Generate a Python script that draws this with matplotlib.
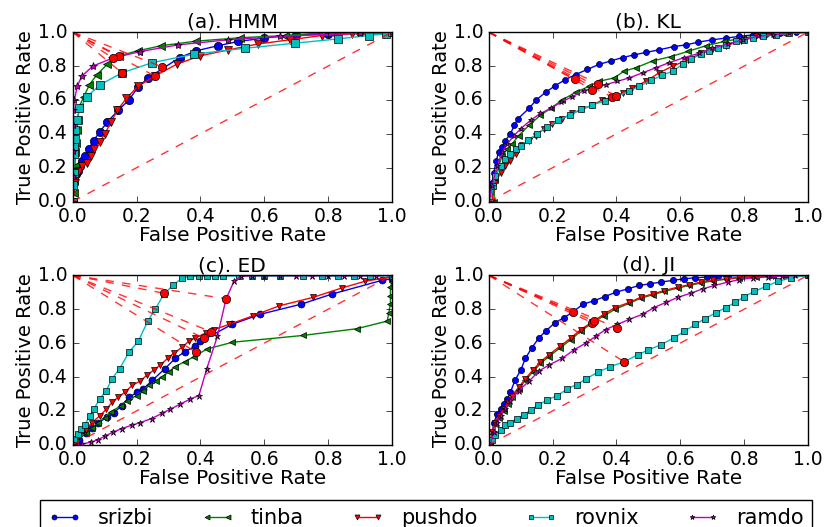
import matplotlib
matplotlib.use('Agg')
import matplotlib.pyplot as plt

plt.style.use('classic')

NAMES  = ['srizbi', 'tinba', 'pushdo', 'rovnix', 'ramdo']
STYLES = ['b-o', 'g-<', 'r-v', 'c-s', 'm-*']
TITLES = ['(a). HMM', '(b). KL', '(c). ED', '(d). JI']

# ---- (a) HMM ----
a_srizbi_x = [0, 0.005, 0.01, 0.016, 0.023, 0.03, 0.039, 0.05, 0.065, 0.084, 0.108, 0.143, 0.176, 0.204, 0.236, 0.335, 0.387, 0.455, 0.518, 0.6, 0.7, 0.8, 0.9, 1.0]
a_srizbi_y = [0, 0.11, 0.16, 0.18, 0.21, 0.24, 0.27, 0.31, 0.36, 0.41, 0.47, 0.54, 0.60, 0.675, 0.73, 0.85, 0.89, 0.92, 0.945, 0.965, 0.985, 0.99, 1.0, 1.0]
a_tinba_x = [0, 0.003, 0.005, 0.007, 0.008, 0.01, 0.013, 0.016, 0.02, 0.035, 0.052, 0.076, 0.108, 0.145, 0.204, 0.277, 0.387, 0.524, 0.665, 0.806, 1.0]
a_tinba_y = [0, 0.05, 0.13, 0.21, 0.29, 0.345, 0.42, 0.48, 0.56, 0.62, 0.69, 0.75, 0.81, 0.86, 0.89, 0.92, 0.947, 0.967, 0.98, 0.998, 1.0]
a_pushdo_x = [0, 0.007, 0.013, 0.019, 0.028, 0.045, 0.058, 0.068, 0.084, 0.1, 0.12, 0.14, 0.168, 0.204, 0.256, 0.325, 0.398, 0.487, 0.58, 0.68, 0.78, 0.874, 0.974, 1.0]
a_pushdo_y = [0, 0.11, 0.15, 0.18, 0.21, 0.23, 0.27, 0.31, 0.35, 0.40, 0.47, 0.54, 0.61, 0.68, 0.74, 0.81, 0.86, 0.895, 0.93, 0.955, 0.98, 0.99, 0.99, 1.0]
a_rovnix_x = [0, 0.002, 0.003, 0.003, 0.005, 0.007, 0.008, 0.012, 0.021, 0.045, 0.086, 0.154, 0.249, 0.38, 0.54, 0.696, 0.83, 0.927, 0.98, 1.0]
a_rovnix_y = [0, 0.10, 0.17, 0.28, 0.33, 0.37, 0.42, 0.48, 0.55, 0.62, 0.69, 0.76, 0.82, 0.87, 0.905, 0.935, 0.96, 0.98, 0.99, 1.0]
a_ramdo_x = [0, 0.001, 0.001, 0.002, 0.002, 0.005, 0.014, 0.028, 0.063, 0.124, 0.21, 0.33, 0.487, 0.65, 0.9, 1.0]
a_ramdo_y = [0, 0.15, 0.30, 0.45, 0.54, 0.60, 0.68, 0.74, 0.80, 0.846, 0.885, 0.925, 0.955, 0.975, 0.994, 1.0]
a_eer_x = [0.28, 0.145, 0.258, 0.154, 0.126]
a_eer_y = [0.795, 0.86, 0.74, 0.76, 0.847]

# ---- (b) KL ----
b_srizbi_x = [0, 0.005, 0.01, 0.016, 0.023, 0.031, 0.042, 0.052, 0.068, 0.08, 0.092, 0.126, 0.149, 0.178, 0.209, 0.24, 0.272, 0.309, 0.346, 0.382, 0.419, 0.455, 0.492, 0.534, 0.58, 0.618, 0.654, 0.70, 0.743, 0.785, 0.827, 0.87, 0.911, 0.963, 1.0]
b_srizbi_y = [0, 0.05, 0.11, 0.17, 0.24, 0.29, 0.32, 0.36, 0.40, 0.45, 0.49, 0.55, 0.60, 0.645, 0.685, 0.72, 0.75, 0.78, 0.81, 0.83, 0.85, 0.866, 0.88, 0.896, 0.915, 0.925, 0.94, 0.955, 0.965, 0.975, 0.984, 0.99, 0.994, 0.998, 1.0]
b_tinba_x = [0.016, 0.02, 0.031, 0.042, 0.058, 0.073, 0.094, 0.126, 0.162, 0.194, 0.23, 0.272, 0.314, 0.346, 0.393, 0.424, 0.461, 0.513, 0.571, 0.623, 0.681, 0.738, 0.796, 0.859, 0.921, 1.0]
b_tinba_y = [0, 0.13, 0.21, 0.27, 0.31, 0.34, 0.39, 0.45, 0.51, 0.55, 0.60, 0.645, 0.68, 0.71, 0.73, 0.77, 0.79, 0.83, 0.856, 0.886, 0.92, 0.945, 0.965, 0.984, 0.994, 1.0]
b_pushdo_x = [0.01, 0.02, 0.037, 0.052, 0.068, 0.084, 0.105, 0.126, 0.147, 0.173, 0.199, 0.23, 0.262, 0.293, 0.325, 0.356, 0.387, 0.419, 0.45, 0.492, 0.534, 0.576, 0.623, 0.665, 0.70, 0.743, 0.79, 0.838, 0.89, 0.942, 1.0]
b_pushdo_y = [0, 0.11, 0.17, 0.21, 0.24, 0.28, 0.335, 0.36, 0.39, 0.43, 0.46, 0.49, 0.52, 0.545, 0.57, 0.60, 0.616, 0.64, 0.67, 0.71, 0.76, 0.80, 0.835, 0.876, 0.896, 0.92, 0.95, 0.975, 0.986, 0.994, 1.0]
b_rovnix_x = [0.005, 0.013, 0.021, 0.037, 0.052, 0.068, 0.084, 0.1, 0.124, 0.152, 0.183, 0.218, 0.253, 0.288, 0.325, 0.364, 0.4, 0.438, 0.471, 0.508, 0.543, 0.576, 0.607, 0.634, 0.665, 0.691, 0.717, 0.743, 0.775, 0.801, 0.827, 0.86, 0.9, 0.94, 1.0]
b_rovnix_y = [0, 0.09, 0.15, 0.21, 0.25, 0.28, 0.31, 0.33, 0.365, 0.40, 0.44, 0.48, 0.51, 0.545, 0.57, 0.595, 0.62, 0.65, 0.68, 0.715, 0.745, 0.77, 0.81, 0.84, 0.87, 0.89, 0.905, 0.925, 0.945, 0.955, 0.965, 0.975, 0.985, 0.993, 1.0]
b_ramdo_x = [0, 0.01, 0.026, 0.042, 0.058, 0.079, 0.1, 0.131, 0.162, 0.194, 0.225, 0.262, 0.298, 0.325, 0.366, 0.403, 0.44, 0.482, 0.524, 0.565, 0.613, 0.66, 0.70, 0.749, 0.796, 0.843, 0.89, 0.942, 1.0]
b_ramdo_y = [0, 0.09, 0.21, 0.29, 0.34, 0.39, 0.43, 0.48, 0.52, 0.55, 0.585, 0.62, 0.655, 0.67, 0.69, 0.71, 0.73, 0.76, 0.79, 0.82, 0.85, 0.876, 0.905, 0.93, 0.955, 0.975, 0.984, 0.994, 1.0]
b_eer_x = [0.27, 0.343, 0.387, 0.4, 0.325]
b_eer_y = [0.722, 0.695, 0.616, 0.624, 0.66]

# ---- (c) ED ----
c_srizbi_x = [0, 0.02, 0.04, 0.06, 0.08, 0.108, 0.129, 0.153, 0.176, 0.202, 0.221, 0.249, 0.289, 0.321, 0.351, 0.382, 0.4, 0.498, 0.587, 0.716, 0.813, 0.968, 1.0]
c_srizbi_y = [0, 0.03, 0.07, 0.10, 0.13, 0.164, 0.19, 0.23, 0.28, 0.31, 0.33, 0.38, 0.45, 0.51, 0.55, 0.58, 0.61, 0.71, 0.77, 0.83, 0.89, 0.97, 0.98]
c_tinba_x = [0, 0.01, 0.04, 0.06, 0.08, 0.1, 0.12, 0.15, 0.17, 0.2, 0.22, 0.24, 0.26, 0.28, 0.3, 0.32, 0.35, 0.38, 0.42, 0.5, 0.72, 0.89, 0.985, 0.99, 0.995, 0.995, 0.995, 1.0, 1.0]
c_tinba_y = [0, 0.02, 0.07, 0.10, 0.13, 0.16, 0.195, 0.23, 0.26, 0.29, 0.32, 0.35, 0.375, 0.40, 0.43, 0.46, 0.49, 0.52, 0.565, 0.605, 0.645, 0.685, 0.73, 0.78, 0.83, 0.88, 0.93, 0.96, 1.0]
c_pushdo_x = [0, 0.02, 0.04, 0.06, 0.084, 0.105, 0.123, 0.142, 0.163, 0.186, 0.21, 0.232, 0.253, 0.274, 0.297, 0.316, 0.342, 0.363, 0.384, 0.416, 0.442, 0.489, 0.563, 0.647, 0.753, 0.842, 0.916, 0.995]
c_pushdo_y = [0, 0.05, 0.09, 0.13, 0.17, 0.21, 0.25, 0.28, 0.31, 0.35, 0.375, 0.41, 0.44, 0.47, 0.51, 0.54, 0.575, 0.61, 0.63, 0.66, 0.68, 0.71, 0.76, 0.82, 0.87, 0.925, 0.965, 0.99]
c_rovnix_x = [0, 0.005, 0.016, 0.026, 0.037, 0.053, 0.066, 0.084, 0.105, 0.123, 0.147, 0.177, 0.205, 0.235, 0.258, 0.286, 0.313, 0.342, 0.368, 0.395, 0.42, 0.445, 0.47, 0.52, 0.56, 0.6, 0.65, 0.72, 0.78, 0.83, 0.88, 0.93, 1.0]
c_rovnix_y = [0, 0.036, 0.065, 0.095, 0.115, 0.17, 0.21, 0.27, 0.32, 0.39, 0.45, 0.55, 0.61, 0.73, 0.80, 0.89, 0.94, 0.984, 0.994, 0.996, 0.996, 0.996, 0.996, 0.996, 0.996, 0.996, 0.996, 0.996, 0.996, 0.996, 0.996, 0.996, 0.996]
c_ramdo_x = [0, 0.015, 0.03, 0.058, 0.079, 0.1, 0.126, 0.153, 0.184, 0.21, 0.247, 0.279, 0.305, 0.337, 0.368, 0.395, 0.42, 0.453, 0.48, 0.505, 0.526, 0.56, 0.6, 0.65, 0.7, 0.75, 0.8, 0.85, 0.9, 0.95, 1.0]
c_ramdo_y = [0, 0.002, 0.005, 0.016, 0.03, 0.05, 0.075, 0.095, 0.115, 0.13, 0.155, 0.185, 0.21, 0.24, 0.27, 0.29, 0.45, 0.64, 0.86, 0.965, 0.994, 0.998, 0.998, 0.998, 0.998, 0.998, 0.998, 0.998, 0.998, 0.998, 1.0]
c_eer_x = [0.41, 0.386, 0.433, 0.286, 0.48]
c_eer_y = [0.63, 0.546, 0.667, 0.894, 0.862]

# ---- (d) JI ----
d_srizbi_x = [0.005, 0.016, 0.026, 0.037, 0.047, 0.058, 0.068, 0.082, 0.1, 0.115, 0.134, 0.157, 0.178, 0.207, 0.236, 0.264, 0.296, 0.33, 0.364, 0.398, 0.435, 0.471, 0.505, 0.539, 0.576, 0.613, 0.647, 0.683, 0.717, 0.75, 0.79, 0.83, 0.88, 0.93, 1.0]
d_srizbi_y = [0, 0.13, 0.18, 0.21, 0.24, 0.27, 0.31, 0.38, 0.44, 0.51, 0.57, 0.63, 0.67, 0.72, 0.75, 0.785, 0.83, 0.85, 0.875, 0.90, 0.92, 0.94, 0.95, 0.96, 0.97, 0.98, 0.985, 0.99, 0.994, 0.997, 0.998, 0.999, 1.0, 1.0, 1.0]
d_tinba_x = [0.005, 0.01, 0.02, 0.031, 0.047, 0.061, 0.073, 0.094, 0.115, 0.138, 0.162, 0.188, 0.222, 0.257, 0.288, 0.325, 0.36, 0.396, 0.44, 0.476, 0.513, 0.55, 0.592, 0.628, 0.665, 0.702, 0.743, 0.785, 0.838, 0.89, 0.94, 1.0]
d_tinba_y = [0, 0.065, 0.12, 0.16, 0.20, 0.24, 0.28, 0.33, 0.38, 0.43, 0.48, 0.52, 0.57, 0.62, 0.67, 0.72, 0.76, 0.80, 0.835, 0.865, 0.885, 0.905, 0.925, 0.94, 0.955, 0.967, 0.977, 0.986, 0.993, 0.997, 0.999, 1.0]
d_pushdo_x = [0.005, 0.01, 0.02, 0.031, 0.047, 0.061, 0.073, 0.094, 0.115, 0.138, 0.162, 0.188, 0.222, 0.257, 0.288, 0.325, 0.36, 0.396, 0.44, 0.476, 0.513, 0.55, 0.592, 0.628, 0.665, 0.702, 0.743, 0.785, 0.838, 0.89, 0.94, 1.0]
d_pushdo_y = [0, 0.075, 0.13, 0.17, 0.21, 0.25, 0.29, 0.34, 0.39, 0.44, 0.49, 0.53, 0.58, 0.63, 0.68, 0.725, 0.77, 0.81, 0.84, 0.87, 0.89, 0.91, 0.93, 0.945, 0.96, 0.97, 0.98, 0.988, 0.994, 0.998, 0.999, 1.0]
d_rovnix_x = [0.005, 0.01, 0.021, 0.037, 0.052, 0.068, 0.089, 0.11, 0.131, 0.155, 0.183, 0.215, 0.246, 0.275, 0.306, 0.343, 0.38, 0.424, 0.466, 0.5, 0.539, 0.579, 0.613, 0.647, 0.678, 0.712, 0.743, 0.772, 0.801, 0.832, 0.869, 0.906, 0.948, 1.0]
d_rovnix_y = [0, 0.03, 0.06, 0.09, 0.115, 0.13, 0.155, 0.175, 0.205, 0.235, 0.265, 0.29, 0.33, 0.355, 0.39, 0.43, 0.46, 0.49, 0.53, 0.56, 0.59, 0.63, 0.67, 0.71, 0.745, 0.78, 0.81, 0.84, 0.875, 0.905, 0.935, 0.965, 0.985, 1.0]
d_ramdo_x = [0.005, 0.016, 0.026, 0.037, 0.052, 0.068, 0.094, 0.126, 0.157, 0.188, 0.23, 0.267, 0.304, 0.335, 0.366, 0.403, 0.44, 0.482, 0.518, 0.555, 0.592, 0.634, 0.67, 0.707, 0.749, 0.785, 0.827, 0.874, 0.92, 0.96, 1.0]
d_ramdo_y = [0, 0.075, 0.13, 0.17, 0.21, 0.26, 0.32, 0.375, 0.435, 0.47, 0.51, 0.56, 0.60, 0.64, 0.68, 0.71, 0.74, 0.77, 0.81, 0.84, 0.87, 0.895, 0.92, 0.94, 0.96, 0.975, 0.985, 0.99, 0.996, 0.999, 1.0]
d_eer_x = [0.264, 0.325, 0.33, 0.424, 0.403]
d_eer_y = [0.785, 0.72, 0.73, 0.49, 0.69]

PANELS = [
    ([a_srizbi_x, a_tinba_x, a_pushdo_x, a_rovnix_x, a_ramdo_x],
     [a_srizbi_y, a_tinba_y, a_pushdo_y, a_rovnix_y, a_ramdo_y], a_eer_x, a_eer_y, 6),
    ([b_srizbi_x, b_tinba_x, b_pushdo_x, b_rovnix_x, b_ramdo_x],
     [b_srizbi_y, b_tinba_y, b_pushdo_y, b_rovnix_y, b_ramdo_y], b_eer_x, b_eer_y, 4.3),
    ([c_srizbi_x, c_tinba_x, c_pushdo_x, c_rovnix_x, c_ramdo_x],
     [c_srizbi_y, c_tinba_y, c_pushdo_y, c_rovnix_y, c_ramdo_y], c_eer_x, c_eer_y, 5),
    ([d_srizbi_x, d_tinba_x, d_pushdo_x, d_rovnix_x, d_ramdo_x],
     [d_srizbi_y, d_tinba_y, d_pushdo_y, d_rovnix_y, d_ramdo_y], d_eer_x, d_eer_y, 4.5),
]


def draw_panel(ax, xs, ys, eer_x, eer_y, ms, title):
    for x, y, st, name in zip(xs, ys, STYLES, NAMES):
        ax.plot(x, y, st, markersize=ms, label=name)
    # diagonal + lines from the (0,1) corner to the operating points
    ax.plot([0, 1], [0, 1], 'r--', alpha=0.8)
    for ex, ey in zip(eer_x, eer_y):
        ax.plot([0, ex], [1, ey], 'r--', alpha=0.8)
        ax.plot([0], [1], 'r.', markersize=4)
        ax.plot([ex], [ey], 'ro', markersize=6)
    ax.set_xlim(0, 1)
    ax.set_ylim(0, 1)
    ax.set_title(title, fontsize=14.5, pad=3)
    ax.set_xlabel('False Positive Rate', fontsize=14.5, labelpad=0)
    ax.set_ylabel('True Positive Rate', fontsize=14, labelpad=2)
    ax.tick_params(labelsize=13.5)


fig, axes = plt.subplots(2, 2, figsize=(8.27, 5.27), dpi=100, facecolor='white')
fig.subplots_adjust(left=0.088, right=0.977, top=0.939, bottom=0.156,
                    wspace=0.303, hspace=0.435)

for ax, (xs, ys, ex, ey, ms), title in zip(axes.flat, PANELS, TITLES):
    draw_panel(ax, xs, ys, ex, ey, ms, title)

handles, labels = axes[0, 0].get_legend_handles_labels()
fig.legend(handles[:5], labels[:5], loc='upper left', ncol=5, mode='expand',
           bbox_to_anchor=(0.048, -0.2, 0.934, 0.252), fontsize=15,
           markerscale=0.6, handlelength=1.6, borderaxespad=0)

plt.savefig('out.png', dpi=100, facecolor='white')
